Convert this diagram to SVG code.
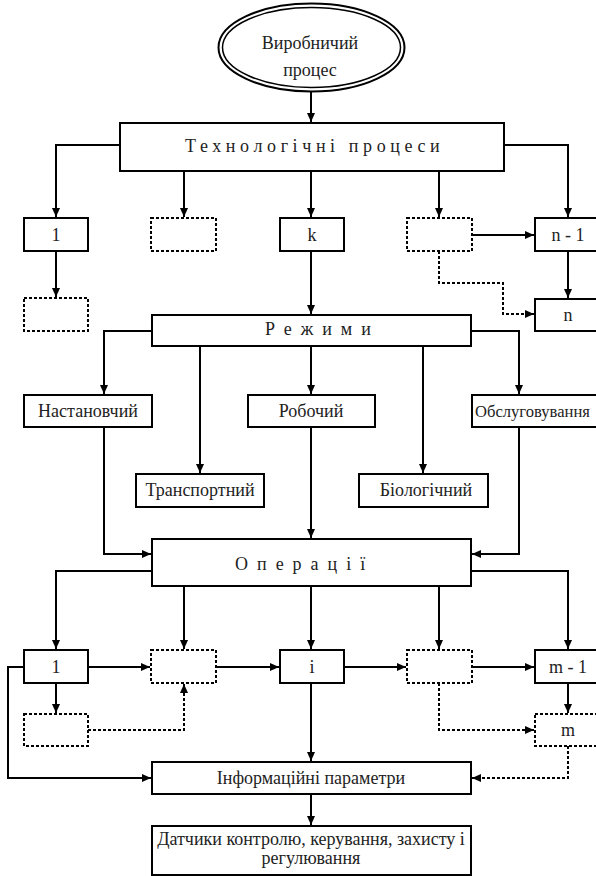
<svg xmlns="http://www.w3.org/2000/svg" width="596" height="876" viewBox="0 0 596 876">
<style>
  .box{fill:#fff;stroke:#000;stroke-width:2}
  .dbox{fill:#fff;stroke:#000;stroke-width:2;stroke-dasharray:3,2}
  .ln{fill:none;stroke:#000;stroke-width:2}
  .dln{fill:none;stroke:#000;stroke-width:2;stroke-dasharray:3,2}
  text{font-family:"Liberation Serif","Times New Roman","DejaVu Serif",serif;font-size:18px;fill:#222}
  .c{text-anchor:middle}
  .sp{letter-spacing:4.6px}
  .sp2{letter-spacing:9px}
</style>
<defs>
  <marker id="ah" markerUnits="userSpaceOnUse" markerWidth="10" markerHeight="9" refX="9" refY="4" orient="auto" overflow="visible">
    <path d="M0,0 L9,4 L0,8 z" fill="#000"/>
  </marker>
</defs>

<g id="connectors">
  <path class="ln" d="M311,92 V122" marker-end="url(#ah)"/>
  <path class="ln" d="M120,145 H56 V217" marker-end="url(#ah)"/>
  <path class="ln" d="M184,171 V217" marker-end="url(#ah)"/>
  <path class="ln" d="M311,171 V217" marker-end="url(#ah)"/>
  <path class="ln" d="M439,171 V217" marker-end="url(#ah)"/>
  <path class="ln" d="M504,145 H568 V217" marker-end="url(#ah)"/>
  <path class="ln" d="M56,251 V297" marker-end="url(#ah)"/>
  <path class="ln" d="M472,235 H534" marker-end="url(#ah)"/>
  <path class="ln" d="M568,251 V298" marker-end="url(#ah)"/>
  <path class="dln" d="M439,251 V283 H503 V314 H534" marker-end="url(#ah)"/>
  <path class="ln" d="M311,251 V314" marker-end="url(#ah)"/>

  <path class="ln" d="M152,331 H104 V394" marker-end="url(#ah)"/>
  <path class="ln" d="M200,346 V473" marker-end="url(#ah)"/>
  <path class="ln" d="M311,346 V394" marker-end="url(#ah)"/>
  <path class="ln" d="M423,346 V473" marker-end="url(#ah)"/>
  <path class="ln" d="M471,331 H519 V394" marker-end="url(#ah)"/>

  <path class="ln" d="M104,427 V554 H151" marker-end="url(#ah)"/>
  <path class="ln" d="M311,427 V538" marker-end="url(#ah)"/>
  <path class="ln" d="M519,427 V554 H472" marker-end="url(#ah)"/>

  <path class="ln" d="M152,571 H56 V649" marker-end="url(#ah)"/>
  <path class="ln" d="M184,586 V649" marker-end="url(#ah)"/>
  <path class="ln" d="M311,586 V649" marker-end="url(#ah)"/>
  <path class="ln" d="M439,586 V649" marker-end="url(#ah)"/>
  <path class="ln" d="M471,571 H568 V649" marker-end="url(#ah)"/>

  <path class="ln" d="M88,667 H150" marker-end="url(#ah)"/>
  <path class="ln" d="M216,667 H279" marker-end="url(#ah)"/>
  <path class="ln" d="M344,667 H406" marker-end="url(#ah)"/>
  <path class="ln" d="M472,667 H534" marker-end="url(#ah)"/>
  <path class="ln" d="M56,683 V713" marker-end="url(#ah)"/>
  <path class="dln" d="M88,730 H184 V684" marker-end="url(#ah)"/>
  <path class="ln" d="M568,683 V713" marker-end="url(#ah)"/>
  <path class="dln" d="M439,683 V730 H534" marker-end="url(#ah)"/>
  <path class="dln" d="M568,746 V778 H472" marker-end="url(#ah)"/>
  <path class="ln" d="M24,667 H8 V778 H151" marker-end="url(#ah)"/>
  <path class="ln" d="M311,683 V761" marker-end="url(#ah)"/>
  <path class="ln" d="M311,794 V825" marker-end="url(#ah)"/>
</g>

<g id="vyrobnychyi">
  <ellipse cx="311.5" cy="47.5" rx="93" ry="44" fill="#fff" stroke="#000" stroke-width="2"/>
  <ellipse cx="311.5" cy="47.5" rx="89" ry="40" fill="none" stroke="#000" stroke-width="1.5"/>
  <text class="c" x="310" y="49">Виробничий</text>
  <text class="c" x="310" y="76">процес</text>
</g>

<g id="tekhnolohichni">
  <rect class="box" x="120" y="123" width="384" height="48"/>
  <text class="sp" x="185" y="152">Технологічні процеси</text>
</g>

<g id="tp1"><rect class="box" x="24" y="218" width="64" height="33"/><text class="c" x="56" y="241">1</text></g>
<g id="tpd1"><rect class="dbox" x="151" y="218" width="65" height="33"/></g>
<g id="tpk"><rect class="box" x="280" y="218" width="64" height="33"/><text class="c" x="312" y="241">k</text></g>
<g id="tpd2"><rect class="dbox" x="407" y="218" width="65" height="33"/></g>
<g id="tpn1"><rect class="box" x="535" y="218" width="65" height="33"/><text class="c" x="568" y="241">n - 1</text></g>
<g id="tpd3"><rect class="dbox" x="24" y="298" width="64" height="33"/></g>
<g id="tpn"><rect class="box" x="535" y="299" width="65" height="32"/><text class="c" x="568" y="321">n</text></g>

<g id="rezhymy">
  <rect class="box" x="152" y="315" width="319" height="31"/>
  <text class="sp2" x="265" y="335">Режими</text>
</g>

<g id="nastanovchyi"><rect class="box" x="24" y="395" width="128" height="32"/><text class="c" x="88" y="417">Настановчий</text></g>
<g id="robochyi"><rect class="box" x="248" y="395" width="127" height="32"/><text class="c" x="311" y="417">Робочий</text></g>
<g id="obsluhovuvannia"><rect class="box" x="472" y="395" width="128" height="32"/><text x="475" y="417" style="font-size:17px" textLength="115" lengthAdjust="spacingAndGlyphs">Обслуговування</text></g>
<g id="transportnyi"><rect class="box" x="136" y="474" width="128" height="33"/><text class="c" x="200" y="496">Транспортний</text></g>
<g id="biolohichnyi"><rect class="box" x="359" y="474" width="129" height="33"/><text class="c" x="426" y="496">Біологічний</text></g>

<g id="operatsii">
  <rect class="box" x="152" y="539" width="319" height="47"/>
  <text class="sp2" x="235" y="570">Операції</text>
</g>

<g id="op1"><rect class="box" x="24" y="650" width="64" height="33"/><text class="c" x="56" y="673">1</text></g>
<g id="opd1"><rect class="dbox" x="151" y="650" width="65" height="33"/></g>
<g id="opi"><rect class="box" x="280" y="650" width="64" height="33"/><text class="c" x="312" y="673">i</text></g>
<g id="opd2"><rect class="dbox" x="407" y="650" width="65" height="33"/></g>
<g id="opm1"><rect class="box" x="535" y="650" width="65" height="33"/><text class="c" x="568" y="673">m - 1</text></g>
<g id="opd3"><rect class="dbox" x="24" y="714" width="64" height="32"/></g>
<g id="opm"><rect class="dbox" x="535" y="714" width="65" height="32"/><text class="c" x="568" y="736">m</text></g>

<g id="informatsiini">
  <rect class="box" x="152" y="762" width="319" height="32"/>
  <text class="c" x="311" y="784">Інформаційні параметри</text>
</g>

<g id="datchyky">
  <rect class="box" x="152" y="826" width="319" height="49"/>
  <text class="c" x="311" y="845">Датчики контролю, керування, захисту і</text>
  <text class="c" x="311" y="864">регулювання</text>
</g>
</svg>
